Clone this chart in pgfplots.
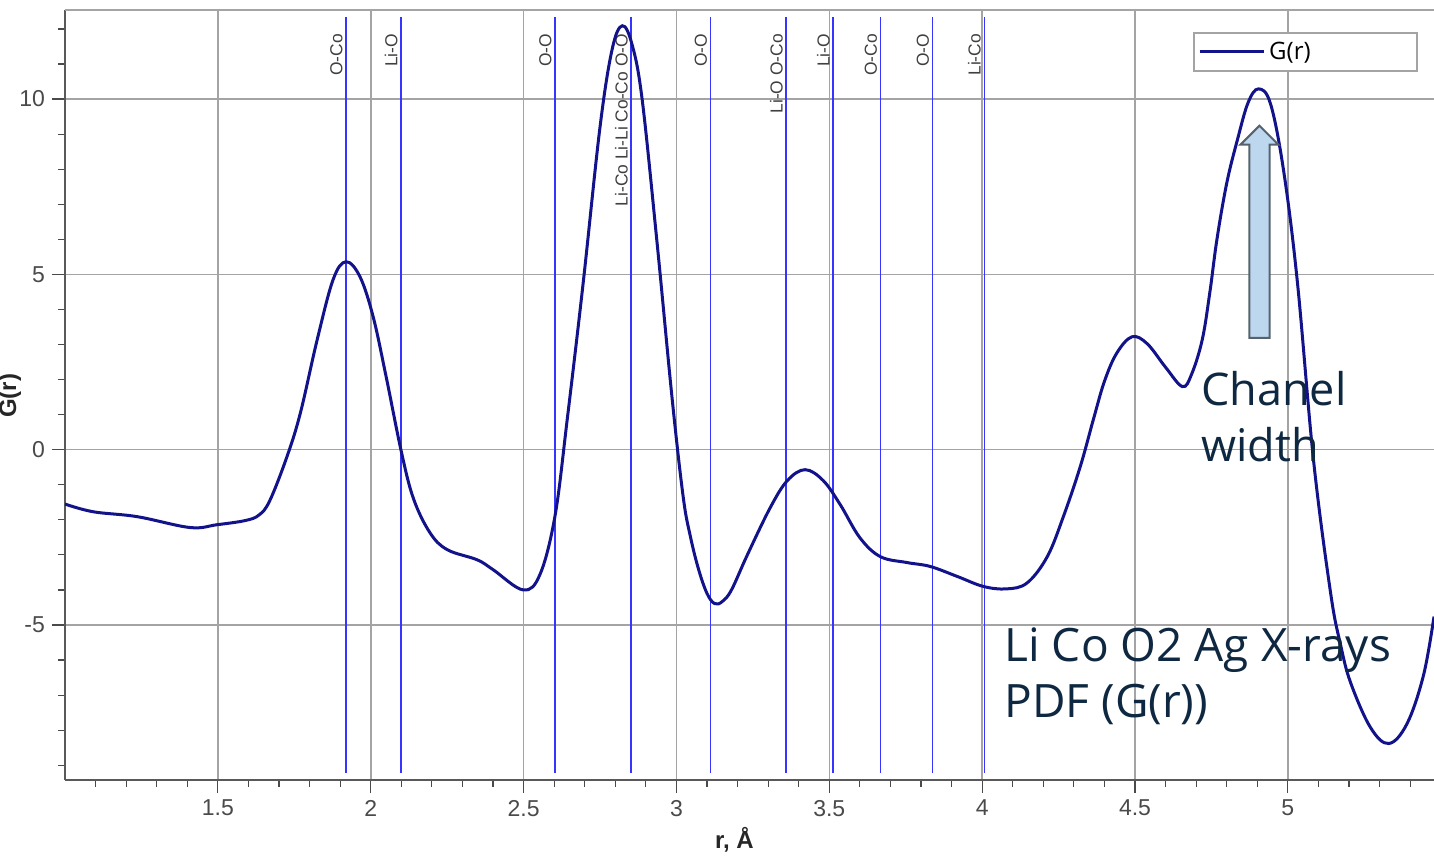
\documentclass[border=0pt]{standalone}
\usepackage{pgfplots}
\pgfplotsset{compat=1.18}
\usepackage{fontspec}
\setmainfont{Liberation Sans}
\newfontfamily\annot{Open Sans}
\definecolor{curve}{HTML}{12128A}
\definecolor{vline}{HTML}{3535FF}
\definecolor{gridc}{HTML}{A4A4A4}
\definecolor{tickc}{HTML}{4A4A4A}
\definecolor{annotc}{HTML}{0E2841}
\definecolor{arrowfill}{HTML}{BDD7EE}
\definecolor{arrowdraw}{HTML}{56626E}
\newcommand{\bond}[2]{%
  \addplot[vline, line width=0.8pt, forget plot] coordinates {(#1,-9.21) (#1,12.35)};
  \node[rotate=90, anchor=south east, inner sep=1.5pt, text=black!75, font=\fontsize{8.7}{10}\selectfont] at (axis cs:#1,11.95) {#2};
}
\begin{document}
\begin{tikzpicture}
\begin{axis}[
  scale only axis, width=684.5pt, height=385pt,
  xmin=1, xmax=5.478, ymin=-9.42, ymax=12.54,
  axis x line*=bottom, axis y line*=left,
  axis line style={black!65, line width=1.2pt},
  xtick={1.5,2,2.5,3,3.5,4,4.5,5},
  minor xtick={1.1,1.2,1.3,1.4,1.6,1.7,1.8,1.9,2.1,2.2,2.3,2.4,2.6,2.7,2.8,2.9,3.1,3.2,3.3,3.4,3.6,3.7,3.8,3.9,4.1,4.2,4.3,4.4,4.6,4.7,4.8,4.9,5.1,5.2,5.3,5.4},
  ytick={-5,0,5,10},
  minor ytick={-9,-8,-7,-6,-4,-3,-2,-1,1,2,3,4,6,7,8,9,11,12},
  grid=major, major grid style={gridc, line width=0.8pt},
  tick align=outside, major tick length=6.5pt, minor tick length=3.5pt,
  tick style={tickc, line width=0.6pt},
  ticklabel style={font=\fontsize{11.5}{13}\selectfont, text=tickc},
  /pgf/number format/assume math mode=true,
  xlabel={r, Å}, ylabel={G(r)},
  xlabel style={font=\bfseries\fontsize{12}{14}\selectfont, text=black!85, at={(axis description cs:0.489,0)}, anchor=center, yshift=-30pt},
  ylabel style={font=\bfseries\fontsize{12}{14}\selectfont, text=black!85, at={(axis description cs:-0.0402,0.4987)}, anchor=center},
  legend style={at={(1,1)}, anchor=north east, xshift=-8pt, yshift=-11pt, draw=gridc, line width=0.8pt, font=\annot\fontsize{12}{14}\selectfont, inner xsep=2pt, inner ysep=2.5pt, cells={anchor=west}},
  legend image code/.code={\draw[#1, line width=1.5pt] (0pt,0pt) -- (32pt,0pt);},
]
\bond{1.919}{O-Co}
\bond{2.099}{Li-O}
\bond{2.603}{O-O}
\bond{2.852}{Li-Co Li-Li Co-Co O-O}
\bond{3.111}{O-O}
\bond{3.359}{Li-O O-Co}
\bond{3.513}{Li-O}
\bond{3.667}{O-Co}
\bond{3.837}{O-O}
\bond{4.007}{Li-Co}
\addplot[curve, line width=1.5pt, smooth, tension=0.6] coordinates {
(1.000,-1.55) (1.092,-1.77) (1.236,-1.91) (1.409,-2.22) (1.497,-2.14) (1.590,-2.02)
(1.635,-1.86) (1.670,-1.45) (1.726,-0.20) (1.770,1.05) (1.825,3.14) (1.877,4.85) (1.919,5.36)
(1.965,4.93) (2.008,3.79) (2.050,2.10) (2.100,-0.05) (2.140,-1.40) (2.194,-2.37)
(2.250,-2.85) (2.348,-3.14) (2.400,-3.42) (2.499,-4.00) (2.554,-3.55) (2.603,-1.88)
(2.643,0.88) (2.695,4.76) (2.750,9.20) (2.790,11.43) (2.823,12.09) (2.855,11.55)
(2.888,9.98) (2.937,5.87) (2.986,1.45) (3.022,-1.34) (3.045,-2.45) (3.072,-3.40)
(3.100,-4.10) (3.125,-4.39) (3.150,-4.33) (3.180,-4.00) (3.232,-3.00) (3.307,-1.65)
(3.363,-0.88) (3.421,-0.57) (3.480,-0.88) (3.536,-1.57) (3.600,-2.51) (3.667,-3.05)
(3.755,-3.22) (3.830,-3.33) (3.920,-3.62) (4.004,-3.90) (4.080,-3.97) (4.147,-3.80)
(4.213,-3.05) (4.266,-1.90) (4.321,-0.48) (4.365,0.90) (4.400,1.95) (4.440,2.75)
(4.490,3.22) (4.540,3.02) (4.600,2.35) (4.655,1.80) (4.685,2.15) (4.720,3.14)
(4.745,4.50) (4.768,6.00) (4.800,7.60) (4.835,8.84) (4.870,9.90) (4.904,10.29)
(4.943,9.87) (4.986,7.96) (5.031,4.79) (5.084,-0.31) (5.140,-4.10) (5.172,-5.55) (5.205,-6.64)
(5.270,-7.92) (5.330,-8.38) (5.390,-7.81) (5.444,-6.42) (5.478,-4.76)
};
\addlegendentry{\makebox[70pt][l]{G(r)}}
\draw[gridc, line width=0.8pt] (rel axis cs:0,1) -- (rel axis cs:1,1);
\draw[arrowdraw, fill=arrowfill, line width=1pt] (axis cs:4.874,3.19) -- (axis cs:4.874,8.70) -- (axis cs:4.845,8.70) -- (axis cs:4.907,9.24) -- (axis cs:4.969,8.70) -- (axis cs:4.940,8.70) -- (axis cs:4.940,3.19) -- cycle;
\node[anchor=base west, inner sep=0pt, text=annotc, font=\annot\fontsize{22.5}{27}\selectfont] at (axis cs:4.715,1.255) {Chanel};
\node[anchor=base west, inner sep=0pt, text=annotc, font=\annot\fontsize{22.5}{27}\selectfont] at (axis cs:4.715,-0.342) {width};
\node[anchor=base west, inner sep=0pt, text=annotc, font=\annot\fontsize{23}{27}\selectfont] at (axis cs:4.072,-6.045) {Li Co O2 Ag X-rays};
\node[anchor=base west, inner sep=0pt, text=annotc, font=\annot\fontsize{23}{27}\selectfont] at (axis cs:4.072,-7.64) {PDF (G(r))};
\end{axis}
\pgfresetboundingbox
\path[use as bounding box] ([shift={(-32.5pt,-42.5pt)}]current axis.south west) rectangle ([shift={(0pt,5pt)}]current axis.north east);
\end{tikzpicture}
\end{document}
